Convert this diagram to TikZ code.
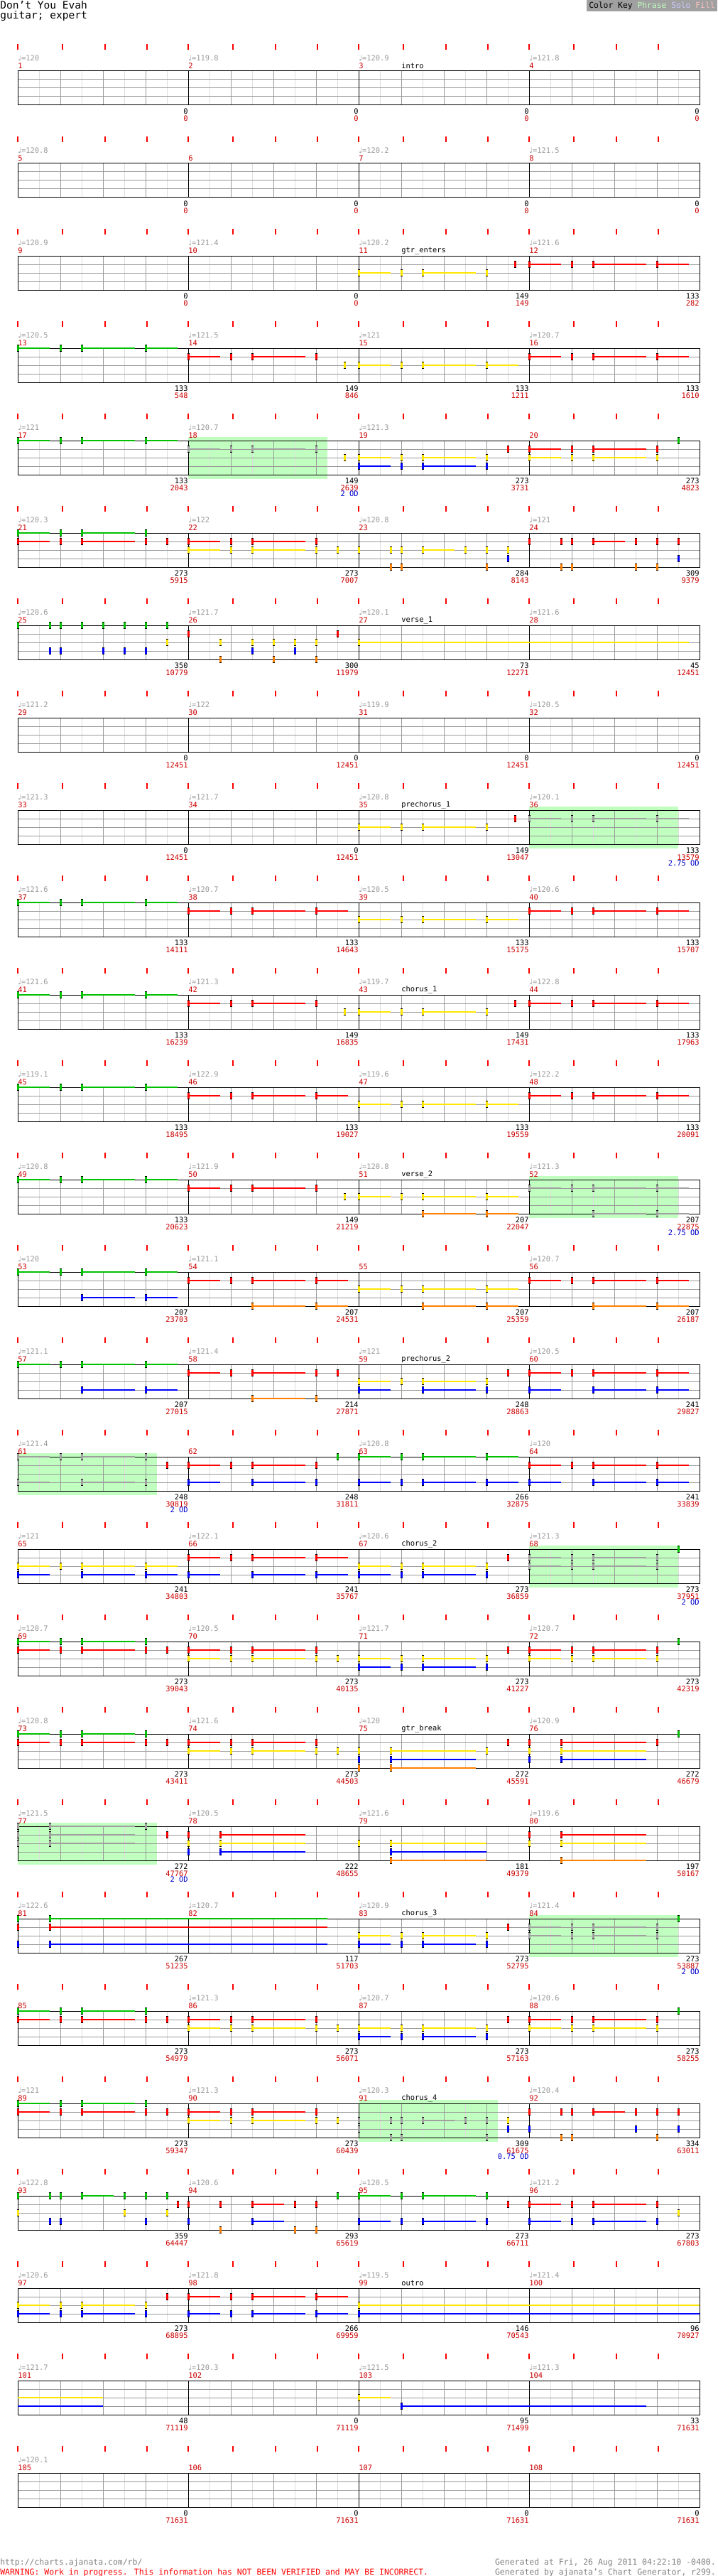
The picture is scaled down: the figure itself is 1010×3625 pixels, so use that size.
\documentclass[tikz,border=0pt]{standalone}
\usepackage{fontspec}
\setmainfont{DejaVu Sans Mono}
\newfontfamily\symfont{DejaVu Sans}
\usetikzlibrary{positioning}

\definecolor{lane0}{HTML}{00C000}
\definecolor{lane1}{HTML}{FF0000}
\definecolor{lane2}{HTML}{FFE600}
\definecolor{lane3}{HTML}{0000FF}
\definecolor{lane4}{HTML}{FF8000}
\definecolor{starnote}{HTML}{A0A0A0}
\definecolor{phrasebg}{HTML}{C0FFC0}
\definecolor{solobg}{HTML}{C8C8FF}
\definecolor{fillbg}{HTML}{FFC0C0}
\definecolor{beatgray}{HTML}{999999}
\definecolor{halfgray}{HTML}{DDDDDD}
\definecolor{darkred}{HTML}{CC0000}
\definecolor{odblue}{HTML}{0000CC}
\definecolor{keygray}{HTML}{A0A0A0}
\definecolor{footgray}{HTML}{808080}

\tikzset{
  halfline/.style={draw=halfgray, line width=0.75pt},
  beatline/.style={draw=beatgray, line width=0.75pt},
  barline/.style={draw=black, line width=0.75pt},
  beattick/.style={draw=red, line width=1.2pt},
  sustain/.style={line width=1.8pt},
  chartfont/.style={font=\fontsize{7.8}{9}\selectfont},
  tempo/.style={chartfont, anchor=west, inner sep=0pt, text=beatgray},
  mnum/.style={chartfont, anchor=west, inner sep=0pt, text=darkred},
  sect/.style={chartfont, anchor=west, inner sep=0pt},
  cnt/.style={chartfont, anchor=east, inner sep=0pt},
  score/.style={cnt, text=darkred},
  od/.style={cnt, text=odblue},
  footfont/.style={font=\fontsize{8.6}{10}\selectfont, inner sep=0pt},
}

% measure start -> \mx, \my (top line of the staff)
\newcommand{\mpos}[1]{%
  \pgfmathsetmacro\mx{25+240*mod(#1-1,4)}%
  \pgfmathsetmacro\my{100+130*int((#1-1)/4)}}

% notes: measure, lane, colour, list of beat/sustain-end
\newcommand{\drawnotes}[4]{%
  \mpos{#1}%
  \edef\nlist{#4}%
  \foreach \nbeg/\nend in \nlist {%
    \pgfmathsetmacro\xa{\mx+60*\nbeg}%
    \pgfmathsetmacro\xb{\mx+60*max(\nbeg,\nend)}%
    \pgfmathsetmacro\yy{\my+12*#2}%
    \draw[sustain,#3] (\xa,\yy) -- (\xb,\yy);
    \fill[#3] (\xa-1.5,\yy-5) rectangle (\xa+1.5,\yy+5);
    \fill[black] (\xa-1.5,\yy-5) rectangle (\xa+1.5,\yy-4);
    \fill[black] (\xa-1.5,\yy+4) rectangle (\xa+1.5,\yy+5);
  }}
\newcommand{\addnotes}[3]{\drawnotes{#1}{#2}{lane#2}{#3}}
\newcommand{\addstar}[3]{\drawnotes{#1}{#2}{starnote}{#3}}
% sustain carried over from the row above
\newcommand{\sustail}[3]{\mpos{#1}%
  \draw[sustain,lane#2] (\mx,\my+12*#2) -- (\mx+60*#3,\my+12*#2);}
% overdrive phrase
\newcommand{\odphrase}[2]{\mpos{#1}%
  \fill[phrasebg] (\mx,\my-5) rectangle (\mx+60*#2,\my+54);}

% riffs
\def\rA{0/0.75,1/0,1.5/2.75,3/3.75}
\def\rB{0/0.75,1/0,1.5/2.75,3/0}
\def\rC{0/0.75,1.5/2.75,3/3.75}
\def\rD{0/0.75,1.5/2.75,3/0}
\def\rE{1.5/2.75,3/3.75}
\def\rF{1.5/2.75,3/0}
\def\rG{0/0,0.75/0,1/0,1.5/2.25,2.5/0,3/0,3.5/0}

\begin{document}
\begin{tikzpicture}[x=0.75pt,y=0.75pt,yscale=-1,xscale=1]
\fill[white] (0,0) rectangle (1010,3625);
\useasboundingbox (0,0) rectangle (1010,3625);

% Text Node
\node[anchor=base west, inner sep=0pt, font=\fontsize{10.9}{12}\selectfont] (title) at (0,13) {Don't You Evah};
% Text Node
\node[anchor=base west, inner sep=0pt, font=\fontsize{10.9}{12}\selectfont] (part) at (0,27) {guitar; expert};
%Shape: Color key
\fill[keygray] (826,0) rectangle (1010,16);
\node[anchor=base west, inner sep=0pt, font=\fontsize{8.5}{10}\selectfont] (key) at (829,12) {Color Key \textcolor{phrasebg}{Phrase} \textcolor{solobg}{Solo} \textcolor{fillbg}{Fill}};

%Shape: overdrive phrases
\odphrase{18}{3.27}
\odphrase{36}{3.5}
\odphrase{52}{3.5}
\odphrase{61}{3.27}
\odphrase{68}{3.5}
\odphrase{77}{3.27}
\odphrase{84}{3.5}
\odphrase{91}{3.27}

%Shape: staves
\foreach \r in {0,...,26}{
  \pgfmathsetmacro\ty{100+130*\r}
  \foreach \c in {0,...,3}{
    \pgfmathsetmacro\cx{25+240*\c}
    \foreach \h in {30,90,150,210} \draw[halfline] (\cx+\h,\ty) -- ++(0,48);
    \foreach \h in {60,120,180} \draw[beatline] (\cx+\h,\ty) -- ++(0,48);
    \foreach \h in {0,63,123,182} \draw[beattick] (\cx+\h,\ty-38) -- ++(0,8);
  }
  \foreach \l in {12,24,36} \draw[beatline] (25,\ty+\l) -- (985,\ty+\l);
  \foreach \c in {1,2,3} \draw[barline] (25+240*\c,\ty) -- ++(0,48);
  \draw[barline] (25,\ty) rectangle (985,\ty+48);
}

% measures 9-12
\addnotes{11}{2}{\rB} \addnotes{11}{1}{3.67/0}
\addnotes{12}{1}{\rA}
% measures 13-16
\addnotes{13}{0}{\rA}
\addnotes{14}{1}{\rB} \addnotes{14}{2}{3.67/0}
\addnotes{15}{2}{\rA}
\addnotes{16}{1}{\rA}
% measures 17-20
\addnotes{17}{0}{\rA}
\addstar{18}{1}{\rB} \addnotes{18}{2}{3.67/0}
\addnotes{19}{2}{\rB} \addnotes{19}{3}{\rB} \addnotes{19}{1}{3.5/0}
\addnotes{20}{1}{\rB} \addnotes{20}{2}{\rB} \addnotes{20}{0}{3.5/0}
% measures 21-24
\addnotes{21}{0}{\rB} \addnotes{21}{1}{\rB,3.5/0}
\addnotes{22}{1}{\rB} \addnotes{22}{2}{\rB,3.5/0}
\addnotes{23}{2}{\rG} \addnotes{23}{4}{0.75/0,1/0,3/0} \addnotes{23}{3}{3.5/0}
\addnotes{24}{1}{\rG} \addnotes{24}{4}{0.75/0,1/0,2.5/0,3/0} \addnotes{24}{3}{3.5/0}
% measures 25-28
\addnotes{25}{0}{0/0,0.75/0,1/0,1.5/0,2/0,2.5/0,3/0,3.5/0}
\addnotes{25}{3}{0.75/0,1/0,2/0,2.5/0,3/0} \addnotes{25}{2}{3.5/0}
\addnotes{26}{1}{0/0,3.5/0} \addnotes{26}{2}{0.75/0,1.5/0,2/0,2.5/0,3/0}
\addnotes{26}{4}{0.75/0,2/0,3/0} \addnotes{26}{3}{1.5/0,2.5/0}
\addnotes{27}{2}{0/7.75}
% measures 33-36
\addnotes{35}{2}{\rB} \addnotes{35}{1}{3.67/0}
\addstar{36}{1}{\rA}
% measures 37-40
\addnotes{37}{0}{\rA} \addnotes{38}{1}{\rA} \addnotes{39}{2}{\rA} \addnotes{40}{1}{\rA}
% measures 41-44
\addnotes{41}{0}{\rA}
\addnotes{42}{1}{\rB} \addnotes{42}{2}{3.67/0}
\addnotes{43}{2}{\rB} \addnotes{43}{1}{3.67/0}
\addnotes{44}{1}{\rA}
% measures 45-48
\addnotes{45}{0}{\rA} \addnotes{46}{1}{\rA} \addnotes{47}{2}{\rA} \addnotes{48}{1}{\rA}
% measures 49-52
\addnotes{49}{0}{\rA}
\addnotes{50}{1}{\rB} \addnotes{50}{2}{3.67/0}
\addnotes{51}{2}{\rA} \addnotes{51}{4}{\rE}
\addstar{52}{1}{\rA} \addstar{52}{4}{\rE}
% measures 53-56
\addnotes{53}{0}{\rA} \addnotes{53}{3}{\rE}
\addnotes{54}{1}{\rA} \addnotes{54}{4}{\rE}
\addnotes{55}{2}{\rA} \addnotes{55}{4}{\rE}
\addnotes{56}{1}{\rA} \addnotes{56}{4}{\rE}
% measures 57-60
\addnotes{57}{0}{\rA} \addnotes{57}{3}{\rE}
\addnotes{58}{1}{\rB,3.5/0} \addnotes{58}{4}{\rF}
\addnotes{59}{2}{\rB} \addnotes{59}{3}{\rD} \addnotes{59}{1}{3.5/0}
\addnotes{60}{1}{\rA} \addnotes{60}{3}{\rC}
% measures 61-64
\addstar{61}{0}{\rB} \addstar{61}{3}{\rD} \addnotes{61}{1}{3.5/0}
\addnotes{62}{1}{\rB} \addnotes{62}{3}{\rD} \addnotes{62}{0}{3.5/0}
\addnotes{63}{0}{\rA} \addnotes{63}{3}{\rA}
\addnotes{64}{1}{\rA} \addnotes{64}{3}{\rC}
% measures 65-68
\addnotes{65}{2}{\rA} \addnotes{65}{3}{\rC}
\addnotes{66}{1}{\rA} \addnotes{66}{3}{\rC}
\addnotes{67}{2}{\rB} \addnotes{67}{3}{\rB} \addnotes{67}{1}{3.5/0}
\addstar{68}{1}{\rB} \addstar{68}{2}{\rB} \addnotes{68}{0}{3.5/0}
% measures 69-72
\addnotes{69}{0}{\rB} \addnotes{69}{1}{\rB,3.5/0}
\addnotes{70}{1}{\rB} \addnotes{70}{2}{\rB,3.5/0}
\addnotes{71}{2}{\rB} \addnotes{71}{3}{\rB} \addnotes{71}{1}{3.5/0}
\addnotes{72}{1}{\rB} \addnotes{72}{2}{\rB} \addnotes{72}{0}{3.5/0}
% measures 73-76
\addnotes{73}{0}{\rB} \addnotes{73}{1}{\rB,3.5/0}
\addnotes{74}{1}{\rB} \addnotes{74}{2}{\rB,3.5/0}
\addnotes{75}{2}{0/0,0.75/2.75,3/0} \addnotes{75}{3}{0/0,0.75/2.75}
\addnotes{75}{4}{0/0,0.75/2.75} \addnotes{75}{1}{3.5/0}
\addnotes{76}{1}{0/0,0.75/2.75,3/0} \addnotes{76}{2}{0/0,0.75/2.75}
\addnotes{76}{3}{0/0,0.75/2.75} \addnotes{76}{0}{3.5/0}
% measures 77-80
\addstar{77}{0}{0/0,0.75/2.75,3/0} \addstar{77}{1}{0/0,0.75/2.75}
\addstar{77}{2}{0/0,0.75/2.75} \addnotes{77}{1}{3.5/0}
\addnotes{78}{1}{0/0,0.75/2.75} \addnotes{78}{2}{0/0,0.75/2.75} \addnotes{78}{3}{0/0,0.75/2.75}
\addnotes{79}{2}{0/0,0.75/3} \addnotes{79}{3}{0.75/3} \addnotes{79}{4}{0.75/3}
\addnotes{80}{1}{0/0,0.75/2.75} \addnotes{80}{2}{0/0,0.75/2.75} \addnotes{80}{4}{0.75/2.75}
% measures 81-84
\addnotes{81}{0}{0/0,0.75/7.27} \addnotes{81}{1}{0/0,0.75/7.27} \addnotes{81}{3}{0/0,0.75/7.27}
\addnotes{83}{2}{\rB} \addnotes{83}{3}{\rB} \addnotes{83}{1}{3.5/0}
\addstar{84}{1}{\rB} \addstar{84}{2}{\rB} \addnotes{84}{0}{3.5/0}
% measures 85-88
\addnotes{85}{0}{\rB} \addnotes{85}{1}{\rB,3.5/0}
\addnotes{86}{1}{\rB} \addnotes{86}{2}{\rB,3.5/0}
\addnotes{87}{2}{\rB} \addnotes{87}{3}{\rB} \addnotes{87}{1}{3.5/0}
\addnotes{88}{1}{\rB} \addnotes{88}{2}{\rB} \addnotes{88}{0}{3.5/0}
% measures 89-92
\addnotes{89}{0}{\rB} \addnotes{89}{1}{\rB,3.5/0}
\addnotes{90}{1}{\rB} \addnotes{90}{2}{\rB,3.5/0}
\addstar{91}{2}{0/0,0.75/0,1/0,1.5/2.25,2.5/0,3/0} \addstar{91}{3}{0/0}
\addstar{91}{4}{0.75/0,1/0,3/0}
\addnotes{91}{2}{3.5/0} \addnotes{91}{3}{3.5/0}
\addnotes{92}{1}{\rG} \addnotes{92}{3}{0/0,2.5/0,3.5/0} \addnotes{92}{4}{0.75/0,1/0,3/0}
% measures 93-96
\addnotes{93}{0}{\rG} \addnotes{93}{2}{0/0,2.5/0,3.5/0}
\addnotes{93}{3}{0.75/0,1/0,3/0} \addnotes{93}{1}{3.75/0}
\addnotes{94}{1}{0/0,0.75/0,1.5/2.25,2.5/0,3/0} \addnotes{94}{3}{0/0,1.5/2.25}
\addnotes{94}{4}{0.75/0,2.5/0,3/0} \addnotes{94}{0}{3.5/0}
\addnotes{95}{0}{\rB} \addnotes{95}{3}{\rB} \addnotes{95}{1}{3.5/0}
\addnotes{96}{1}{\rB} \addnotes{96}{3}{\rB} \addnotes{96}{2}{3.5/0}
% measures 97-100
\addnotes{97}{2}{\rB} \addnotes{97}{3}{\rB} \addnotes{97}{1}{3.5/0}
\addnotes{98}{1}{\rA} \addnotes{98}{3}{\rA}
\addnotes{99}{2}{0/8} \addnotes{99}{3}{0/8}
% measures 101-104
\sustail{101}{2}{2} \sustail{101}{3}{2}
\addnotes{103}{2}{0/0.75} \addnotes{103}{3}{1/6.75}

% Text Node: measure numbers
\foreach \m in {1,...,108}{
  \mpos{\m}
  \node[mnum] (num\m) at (\mx,\my-7) {\m};
}
% Text Node: tempos
\foreach \m/\tp in {1/120,2/119.8,3/120.9,4/121.8,5/120.8,7/120.2,8/121.5,
  9/120.9,10/121.4,11/120.2,12/121.6,13/120.5,14/121.5,15/121,16/120.7,
  17/121,18/120.7,19/121.3,21/120.3,22/122,23/120.8,24/121,
  25/120.6,26/121.7,27/120.1,28/121.6,29/121.2,30/122,31/119.9,32/120.5,
  33/121.3,34/121.7,35/120.8,36/120.1,37/121.6,38/120.7,39/120.5,40/120.6,
  41/121.6,42/121.3,43/119.7,44/122.8,45/119.1,46/122.9,47/119.6,48/122.2,
  49/120.8,50/121.9,51/120.8,52/121.3,53/120,54/121.1,56/120.7,
  57/121.1,58/121.4,59/121,60/120.5,61/121.4,63/120.8,64/120,
  65/121,66/122.1,67/120.6,68/121.3,69/120.7,70/120.5,71/121.7,72/120.7,
  73/120.8,74/121.6,75/120,76/120.9,77/121.5,78/120.5,79/121.6,80/119.6,
  81/122.6,82/120.7,83/120.9,84/121.4,86/121.3,87/120.7,88/120.6,
  89/121,90/121.3,91/120.3,92/120.4,93/122.8,94/120.6,95/120.5,96/121.2,
  97/120.6,98/121.8,99/119.5,100/121.4,101/121.7,102/120.3,103/121.5,104/121.3,
  105/120.1}{
  \mpos{\m}
  \node[tempo] (tmp\m) at (\mx,\my-18) {{\symfont ♩}=\tp};
}
% Text Node: sections
\foreach \m/\sname in {3/intro,11/gtr\_enters,27/verse\_1,35/prechorus\_1,
  43/chorus\_1,51/verse\_2,59/prechorus\_2,67/chorus\_2,75/gtr\_break,
  83/chorus\_3,91/chorus\_4,99/outro}{
  \mpos{\m}
  \node[sect] (sec\m) at (\mx+60,\my-7) {\sname};
}
% Text Node: note counts and running scores
\foreach \m/\nc/\sc in {1/0/0,2/0/0,3/0/0,4/0/0,5/0/0,6/0/0,7/0/0,8/0/0,
  9/0/0,10/0/0,11/149/149,12/133/282,13/133/548,14/149/846,15/133/1211,16/133/1610,
  17/133/2043,18/149/2639,19/273/3731,20/273/4823,21/273/5915,22/273/7007,23/284/8143,24/309/9379,
  25/350/10779,26/300/11979,27/73/12271,28/45/12451,29/0/12451,30/0/12451,31/0/12451,32/0/12451,
  33/0/12451,34/0/12451,35/149/13047,36/133/13579,37/133/14111,38/133/14643,39/133/15175,40/133/15707,
  41/133/16239,42/149/16835,43/149/17431,44/133/17963,45/133/18495,46/133/19027,47/133/19559,48/133/20091,
  49/133/20623,50/149/21219,51/207/22047,52/207/22875,53/207/23703,54/207/24531,55/207/25359,56/207/26187,
  57/207/27015,58/214/27871,59/248/28863,60/241/29827,61/248/30819,62/248/31811,63/266/32875,64/241/33839,
  65/241/34803,66/241/35767,67/273/36859,68/273/37951,69/273/39043,70/273/40135,71/273/41227,72/273/42319,
  73/273/43411,74/273/44503,75/272/45591,76/272/46679,77/272/47767,78/222/48655,79/181/49379,80/197/50167,
  81/267/51235,82/117/51703,83/273/52795,84/273/53887,85/273/54979,86/273/56071,87/273/57163,88/273/58255,
  89/273/59347,90/273/60439,91/309/61675,92/334/63011,93/359/64447,94/293/65619,95/273/66711,96/273/67803,
  97/273/68895,98/266/69959,99/146/70543,100/96/70927,101/48/71119,102/0/71119,103/95/71499,104/33/71631,
  105/0/71631,106/0/71631,107/0/71631,108/0/71631}{
  \mpos{\m}
  \node[cnt] (cnt\m) at (\mx+240,\my+57) {\nc};
  \node[score] (scr\m) at (\mx+240,\my+66.5) {\sc};
}
% Text Node: overdrive gained
\foreach \m/\odv in {18/2,36/2.75,52/2.75,61/2,68/2,77/2,84/2,91/0.75}{
  \mpos{\m}
  \node[od] (od\m) at (\mx+240,\my+75) {\odv\ OD};
}

% Text Node: footer
\node[footfont, anchor=base west, text=footgray] (url) at (0,3609) {http://charts.ajanata.com/rb/};
\node[footfont, anchor=base west, text=red] (warn) at (0,3623) {WARNING: Work in progress. This information has NOT BEEN VERIFIED and MAY BE INCORRECT.};
\node[footfont, anchor=base east, text=footgray] (gendate) at (1008,3609) {Generated at Fri, 26 Aug 2011 04:22:10 -0400.};
\node[footfont, anchor=base east, text=footgray] (genby) at (1008,3623) {Generated by ajanata's Chart Generator, r299.};

\end{tikzpicture}
\end{document}
